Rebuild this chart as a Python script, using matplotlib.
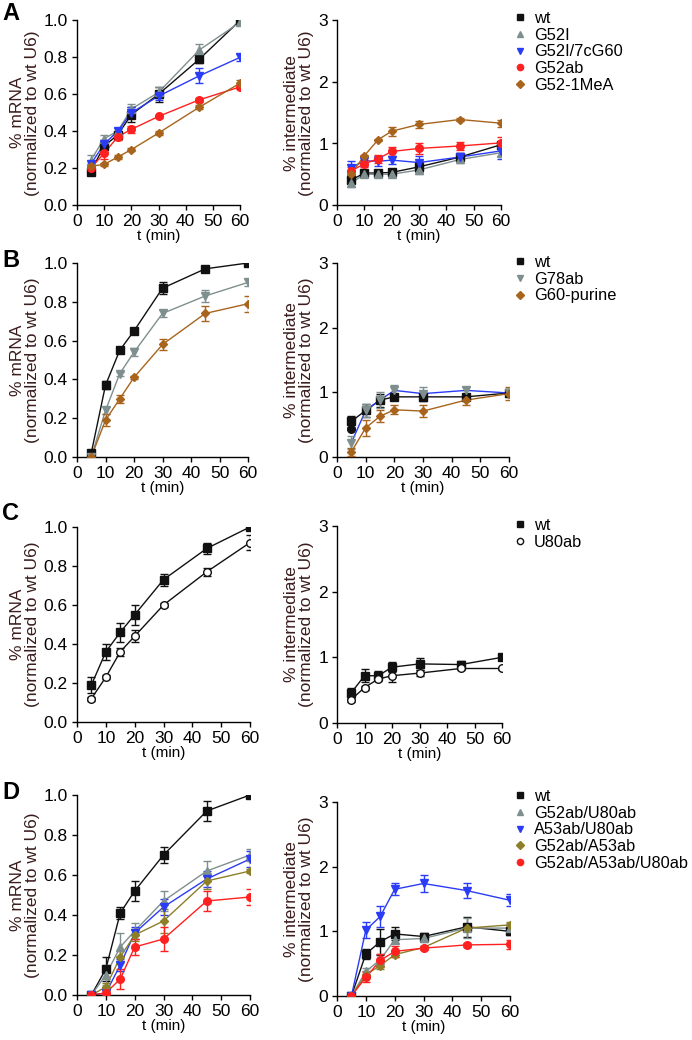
import matplotlib
matplotlib.use("Agg")
import matplotlib.pyplot as plt
from matplotlib.lines import Line2D

plt.rcParams['font.family'] = ['Liberation Sans', 'DejaVu Sans']

t = [5, 10, 15, 20, 30, 45, 60]

# ---- Panel A ----
A_names = ["wt", "G52I", "G52I/7cG60", "G52ab", "G52-1MeA"]
A_mrna = [
    [0.18, 0.32, 0.38, 0.49, 0.60, 0.79, 1.00],
    [0.24, 0.36, 0.40, 0.52, 0.61, 0.84, 0.99],
    [0.22, 0.33, 0.40, 0.50, 0.59, 0.70, 0.80],
    [0.20, 0.28, 0.37, 0.41, 0.48, 0.57, 0.64],
    [0.21, 0.22, 0.26, 0.30, 0.39, 0.53, 0.66],
]
A_mrna_err = [
    [0.02, 0.02, 0.02, 0.04, 0.04, 0.02, 0.00],
    [0.03, 0.02, 0.02, 0.03, 0.03, 0.03, 0.01],
    [0.02, 0.02, 0.02, 0.03, 0.02, 0.04, 0.02],
    [0.02, 0.03, 0.02, 0.02, 0.01, 0.01, 0.01],
    [0.01, 0.01, 0.01, 0.01, 0.01, 0.01, 0.02],
]
A_int = [
    [0.40, 0.52, 0.52, 0.53, 0.62, 0.78, 0.98],
    [0.35, 0.50, 0.50, 0.50, 0.57, 0.74, 0.85],
    [0.60, 0.72, 0.71, 0.73, 0.69, 0.78, 0.88],
    [0.55, 0.67, 0.75, 0.87, 0.92, 0.96, 1.01],
    [0.50, 0.80, 1.06, 1.20, 1.31, 1.39, 1.33],
]
A_int_err = [
    [0.05, 0.05, 0.05, 0.05, 0.08, 0.05, 0.05],
    [0.05, 0.05, 0.05, 0.05, 0.06, 0.05, 0.05],
    [0.12, 0.08, 0.08, 0.06, 0.10, 0.06, 0.14],
    [0.06, 0.06, 0.06, 0.08, 0.09, 0.06, 0.09],
    [0.03, 0.02, 0.02, 0.07, 0.05, 0.02, 0.06],
]

# ---- Panel B ----
B_names = ["wt", "G78ab", "G60-purine"]
B_mrna = [
    [0.02, 0.37, 0.55, 0.65, 0.87, 0.97, 1.00],
    [0.00, 0.24, 0.43, 0.54, 0.74, 0.83, 0.90],
    [0.00, 0.19, 0.30, 0.41, 0.58, 0.74, 0.79],
]
B_mrna_err = [
    [0.01, 0.02, 0.01, 0.01, 0.03, 0.01, 0.00],
    [0.01, 0.02, 0.01, 0.02, 0.02, 0.03, 0.02],
    [0.01, 0.03, 0.02, 0.01, 0.03, 0.04, 0.04],
]
B_int = [
    [0.55, 0.72, 0.88, 0.93, 0.93, 0.93, 0.99],
    [0.22, 0.72, 0.88, 1.03, 0.98, 1.03, 0.99],
    [0.08, 0.45, 0.63, 0.73, 0.71, 0.88, 0.98],
]
B_int_err = [
    [0.08, 0.10, 0.10, 0.05, 0.06, 0.05, 0.05],
    [0.10, 0.10, 0.12, 0.08, 0.10, 0.05, 0.06],
    [0.06, 0.12, 0.09, 0.07, 0.09, 0.07, 0.10],
]
B_extra_t = [5]
B_extra_int = [0.43]

# ---- Panel C ----
C_names = ["wt", "U80ab"]
C_mrna = [
    [0.19, 0.36, 0.46, 0.55, 0.73, 0.89, 1.00],
    [0.12, 0.23, 0.36, 0.44, 0.60, 0.77, 0.92],
]
C_mrna_err = [
    [0.04, 0.04, 0.05, 0.05, 0.03, 0.03, 0.00],
    [0.01, 0.01, 0.02, 0.03, 0.01, 0.02, 0.04],
]
C_int = [
    [0.45, 0.72, 0.72, 0.85, 0.90, 0.89, 1.00],
    [0.35, 0.54, 0.67, 0.72, 0.76, 0.83, 0.83],
]
C_int_err = [
    [0.08, 0.10, 0.07, 0.08, 0.09, 0.06, 0.00],
    [0.03, 0.03, 0.03, 0.09, 0.05, 0.03, 0.02],
]

# ---- Panel D ----
D_names = ["wt", "G52ab/U80ab", "A53ab/U80ab", "G52ab/A53ab", "G52ab/A53ab/U80ab"]
D_mrna = [
    [0.00, 0.13, 0.41, 0.52, 0.70, 0.92, 1.00],
    [0.00, 0.10, 0.24, 0.32, 0.47, 0.62, 0.70],
    [0.00, 0.01, 0.15, 0.31, 0.44, 0.58, 0.68],
    [0.00, 0.04, 0.19, 0.30, 0.37, 0.57, 0.62],
    [0.00, 0.01, 0.08, 0.24, 0.28, 0.47, 0.49],
]
D_mrna_err = [
    [0.01, 0.06, 0.03, 0.05, 0.04, 0.05, 0.00],
    [0.01, 0.05, 0.07, 0.04, 0.05, 0.05, 0.03],
    [0.01, 0.02, 0.03, 0.03, 0.04, 0.04, 0.04],
    [0.01, 0.02, 0.03, 0.03, 0.06, 0.04, 0.01],
    [0.01, 0.02, 0.05, 0.04, 0.06, 0.05, 0.04],
]
D_int = [
    [0.00, 0.65, 0.84, 0.96, 0.92, 1.07, 1.00],
    [0.00, 0.38, 0.56, 0.87, 0.89, 1.05, 1.05],
    [0.00, 1.02, 1.23, 1.65, 1.74, 1.63, 1.48],
    [0.00, 0.33, 0.47, 0.64, 0.75, 1.05, 1.10],
    [0.00, 0.29, 0.55, 0.69, 0.74, 0.79, 0.80],
]
D_int_err = [
    [0.02, 0.08, 0.20, 0.10, 0.05, 0.15, 0.06],
    [0.02, 0.06, 0.09, 0.05, 0.05, 0.15, 0.08],
    [0.02, 0.13, 0.16, 0.09, 0.13, 0.11, 0.09],
    [0.02, 0.05, 0.05, 0.04, 0.03, 0.03, 0.05],
    [0.02, 0.08, 0.10, 0.08, 0.03, 0.03, 0.07],
]

BLACK = "#111111"
GRAY = "#7f8f8f"
BLUE = "#2a3cf5"
RED = "#ff2020"
BROWN = "#a8641c"
OLIVE = "#8d7f28"
LABC = "#3a1c1c"

A_style = [(BLACK, "s"), (GRAY, "^"), (BLUE, "v"), (RED, "o"), (BROWN, "D")]
B_style = [(BLACK, "s"), (GRAY, "v"), (BROWN, "D")]
C_style = [(BLACK, "s"), (BLACK, "o")]
D_style = [(BLACK, "s"), (GRAY, "^"), (BLUE, "v"), (OLIVE, "D"), (RED, "o")]

fig = plt.figure(figsize=(6.92, 10.4), dpi=100)

W, H = 692.0, 1040.0

def make_ax(x0, x1, ytop, ybot):
    return fig.add_axes([x0 / W, 1 - ybot / H, (x1 - x0) / W, (ybot - ytop) / H])

def style_ax(ax, ymax, yticks, fmt, ylabel):
    ax.set_xlim(0, 60)
    ax.set_ylim(0, ymax)
    ax.set_xticks([0, 10, 20, 30, 40, 50, 60])
    ax.set_yticks(yticks)
    ax.set_yticklabels([fmt.format(v) for v in yticks])
    for s in ["top", "right"]:
        ax.spines[s].set_visible(False)
    for s in ["left", "bottom"]:
        ax.spines[s].set_linewidth(1.0)
    ax.tick_params(direction="out", length=3.5, width=1.0, labelsize=12.5, pad=3)
    ax.set_xlabel("t (min)", fontsize=11, labelpad=0)
    ax.set_ylabel(ylabel, fontsize=12.5, color=LABC, labelpad=3, linespacing=1.0)
    ax.patch.set_alpha(0)

def plot_series(ax, vals, errs, styles, open_idx=(), line_override=None):
    for i, (v, e, (c, m)) in enumerate(zip(vals, errs, styles)):
        lc = c
        if line_override and i in line_override:
            lc = line_override[i]
        ms = 4.5 if m == "D" else 5.5
        ax.plot(t, v, color=lc, lw=1.0, zorder=2)
        ax.errorbar(t, v, yerr=e, fmt="none", ecolor=c, elinewidth=1.0,
                    capsize=3, capthick=1.0, zorder=3)
        fc = "white" if i in open_idx else c
        ax.plot(t, v, ls="none", marker=m, ms=ms, mfc=fc, mec=c, mew=1.0, zorder=4)

def legend(names, styles, ytop, open_idx=()):
    handles = []
    for i, (c, m) in enumerate(styles):
        fc = "white" if i in open_idx else c
        handles.append(Line2D([], [], ls="none", marker=m, ms=4.5 if m != "D" else 4,
                              mfc=fc, mec=c, mew=1.0))
    fig.legend(handles, names, loc="upper left",
               bbox_to_anchor=(514 / W, 1 - ytop / H), frameon=False,
               fontsize=11.8, handlelength=0.75, handletextpad=0.45,
               labelspacing=0.1, borderpad=0, borderaxespad=0)

ylab_m = "% mRNA\n(normalized to wt U6)"
ylab_i = "% intermediate\n(normalized to wt U6)"

# Panel A
ax = make_ax(77, 240, 20.5, 205)
plot_series(ax, A_mrna, A_mrna_err, A_style)
style_ax(ax, 1.0, [0, 0.2, 0.4, 0.6, 0.8, 1.0], "{:.1f}", ylab_m)
ax = make_ax(337, 501, 20.5, 205)
plot_series(ax, A_int, A_int_err, A_style)
style_ax(ax, 3, [0, 1, 2, 3], "{:.0f}", ylab_i)
legend(A_names, A_style, 11)

# Panel B
ax = make_ax(77, 248, 263, 457)
plot_series(ax, B_mrna, B_mrna_err, B_style)
style_ax(ax, 1.0, [0, 0.2, 0.4, 0.6, 0.8, 1.0], "{:.1f}", ylab_m)
ax = make_ax(337, 509, 263, 457)
plot_series(ax, B_int, B_int_err, B_style, line_override={1: BLUE})
ax.plot(B_extra_t, B_extra_int, ls="none", marker="o", ms=5.5, color=BLACK, zorder=4)
style_ax(ax, 3, [0, 1, 2, 3], "{:.0f}", ylab_i)
legend(B_names, B_style, 255)

# Panel C
ax = make_ax(77, 250, 527, 722)
plot_series(ax, C_mrna, C_mrna_err, C_style, open_idx=(1,))
style_ax(ax, 1.0, [0, 0.2, 0.4, 0.6, 0.8, 1.0], "{:.1f}", ylab_m)
ax = make_ax(337, 502, 526, 723)
plot_series(ax, C_int, C_int_err, C_style, open_idx=(1,))
style_ax(ax, 3, [0, 1, 2, 3], "{:.0f}", ylab_i)
legend(C_names, C_style, 518, open_idx=(1,))

# Panel D
ax = make_ax(77, 250, 795, 995)
plot_series(ax, D_mrna, D_mrna_err, D_style)
style_ax(ax, 1.0, [0, 0.2, 0.4, 0.6, 0.8, 1.0], "{:.1f}", ylab_m)
ax = make_ax(337, 510, 802, 996)
plot_series(ax, D_int, D_int_err, D_style)
style_ax(ax, 3, [0, 1, 2, 3], "{:.0f}", ylab_i)
legend(D_names, D_style, 789)

for letter, y in [("A", 2), ("B", 249), ("C", 502), ("D", 781)]:
    fig.text(2 / W, 1 - y / H, letter, fontsize=17, fontweight="bold", va="top", ha="left")

fig.savefig("out.png", dpi=100)
